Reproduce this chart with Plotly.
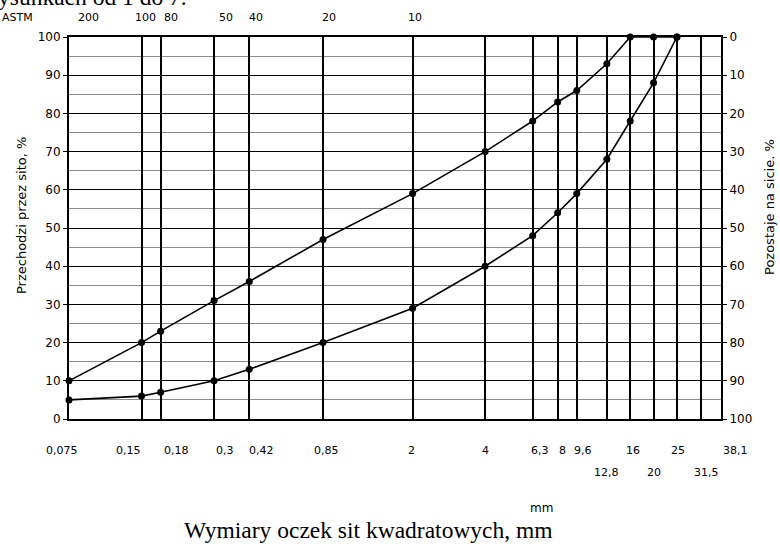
import math
import plotly.graph_objects as go

# ---------------- data ----------------
sieve_sizes = [0.075, 0.15, 0.18, 0.3, 0.42, 0.85, 2, 4, 6.3, 8, 9.6, 12.8, 16, 20, 25, 31.5, 38.1]
bottom_labels_row1 = {0.075: "0,075", 0.15: "0,15", 0.18: "0,18", 0.3: "0,3", 0.42: "0,42",
                      0.85: "0,85", 2: "2", 4: "4", 6.3: "6,3", 8: "8", 9.6: "9,6",
                      16: "16", 25: "25", 38.1: "38,1"}
bottom_labels_row2 = {12.8: "12,8", 20: "20", 31.5: "31,5"}
astm_sizes = [0.075, 0.15, 0.18, 0.3, 0.42, 0.85, 2]
astm_labels = ["200", "100", "80", "50", "40", "20", "10"]

upper_x = [0.075, 0.15, 0.18, 0.3, 0.42, 0.85, 2, 4, 6.3, 8, 9.6, 12.8, 16, 20, 25]
upper_y = [10, 20, 23, 31, 36, 47, 59, 70, 78, 83, 86, 93, 100, 100, 100]
lower_x = [0.075, 0.15, 0.18, 0.3, 0.42, 0.85, 2, 4, 6.3, 8, 9.6, 12.8, 16, 20, 25]
lower_y = [5, 6, 7, 10, 13, 20, 29, 40, 48, 54, 59, 68, 78, 88, 100]

left_ticks = list(range(0, 101, 10))
right_ticks = list(range(0, 101, 10))

# ---------------- styling offsets (pixels) ----------------
row1_shift = {0.075: -7, 0.15: -13, 0.18: 16, 0.3: 11, 0.42: 12, 0.85: 3, 2: -1, 4: 0,
              6.3: 7, 8: 5, 9.6: 6, 16: 3, 25: 1, 38.1: 14}
row2_shift = {12.8: 0, 20: 0, 31.5: 5}
astm_shift = [19, 4, 10, 12, 7, 6, 2]

W, H = 780, 551
L, R, T, B = 69, 59, 37, 132
plot_h = H - T - B
plot_w = W - L - R


def py(p):  # pixel y -> paper y
    return (H - B - p) / plot_h


def px(p):  # pixel x -> paper x
    return (p - L) / plot_w


SANS = "DejaVu Sans, Arial, sans-serif"
SERIF = "Liberation Serif, Times New Roman, serif"

fig = go.Figure()
for xs, ys in [(upper_x, upper_y), (lower_x, lower_y)]:
    fig.add_trace(go.Scatter(
        x=xs, y=ys, mode="lines+markers",
        line=dict(color="black", width=1.6),
        marker=dict(color="black", size=7),
        cliponaxis=False, showlegend=False, hoverinfo="x+y"))

# dummy trace for right axis
fig.add_trace(go.Scatter(x=[0.075], y=[0], yaxis="y2", mode="markers",
                         marker=dict(opacity=0), showlegend=False, hoverinfo="skip"))


def ann(x, y, text, xref="paper", xshift=0, size=11, family=SANS, angle=0, xanchor="center"):
    return dict(x=x, y=y, xref=xref, yref="paper", text=text, showarrow=False,
                xanchor=xanchor, yanchor="middle", xshift=xshift, textangle=angle,
                font=dict(family=family, size=size, color="black"))


annotations = []
for s, t in bottom_labels_row1.items():
    annotations.append(ann(math.log10(s), py(450), t, xref="x", xshift=row1_shift[s]))
for s, t in bottom_labels_row2.items():
    annotations.append(ann(math.log10(s), py(472), t, xref="x", xshift=row2_shift[s]))
for s, t, sh in zip(astm_sizes, astm_labels, astm_shift):
    annotations.append(ann(math.log10(s), py(18), t, xref="x", xshift=sh))
annotations.append(ann(px(18), py(18), "ASTM"))
annotations.append(ann(px(21), py(216), "Przechodzi przez sito, %", size=13, angle=-90))
annotations.append(ann(px(769), py(207), "Pozostaje na sicie. %", size=13, angle=-90))
annotations.append(ann(px(541), py(508), "mm", size=12))
annotations.append(ann(px(368), py(530), "Wymiary oczek sit kwadratowych, mm", size=23.5, family=SERIF))
annotations.append(ann(px(-4), py(-3), "ysunkach od 1 do 7.", size=23.5, family=SERIF, xanchor="left"))

fig.update_layout(
    width=W, height=H,
    margin=dict(l=L, r=R, t=T, b=B),
    paper_bgcolor="white", plot_bgcolor="white",
    showlegend=False,
    annotations=annotations,
    xaxis=dict(type="log", range=[math.log10(0.075), math.log10(38.1)],
               tickvals=sieve_sizes, showticklabels=False, ticks="",
               showgrid=True, gridcolor="black", gridwidth=1.5,
               showline=True, linecolor="black", linewidth=2, mirror=True,
               zeroline=False),
    yaxis=dict(range=[0, 100], tickvals=left_ticks, ticks="outside", ticklen=4,
               tickcolor="black", tickfont=dict(family=SANS, size=12, color="black"),
               showgrid=True, gridcolor="black", gridwidth=1.4,
               minor=dict(dtick=5, showgrid=True, gridcolor="#8a8a8a", gridwidth=1),
               showline=True, linecolor="black", linewidth=2, mirror=True,
               zeroline=False, automargin=False),
    yaxis2=dict(range=[100, 0], overlaying="y", side="right", tickvals=right_ticks,
                ticks="outside", ticklen=5, tickcolor="black",
                tickfont=dict(family=SANS, size=12, color="black"),
                showgrid=False, zeroline=False, showline=False, automargin=False),
)

fig.write_html("out.html", config={"displayModeBar": False},
               post_script="document.body.style.margin='0';")
